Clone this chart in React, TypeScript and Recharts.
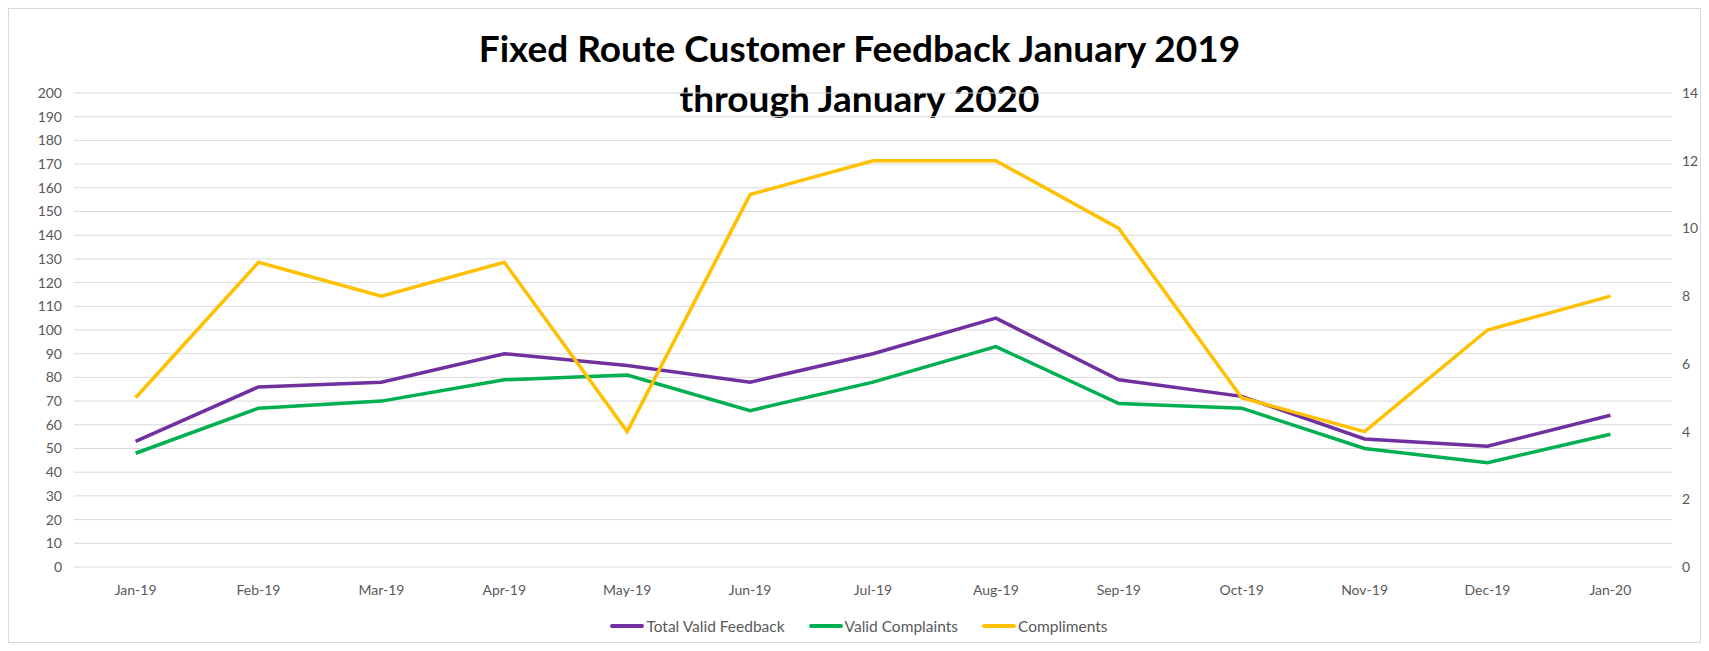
import React from "react";
import { LineChart, Line, XAxis, YAxis, CartesianGrid, Legend } from "recharts";

const months = ["Jan-19", "Feb-19", "Mar-19", "Apr-19", "May-19", "Jun-19", "Jul-19", "Aug-19", "Sep-19", "Oct-19", "Nov-19", "Dec-19", "Jan-20"];
const totalValidFeedback = [53, 76, 78, 90, 85, 78, 90, 105, 79, 72, 54, 51, 64];
const validComplaints = [48, 67, 70, 79, 81, 66, 78, 93, 69, 67, 50, 44, 56];
const compliments = [5, 9, 8, 9, 4, 11, 12, 12, 10, 5, 4, 7, 8];
const leftTicks = [0, 10, 20, 30, 40, 50, 60, 70, 80, 90, 100, 110, 120, 130, 140, 150, 160, 170, 180, 190, 200];
const rightTicks = [0, 2, 4, 6, 8, 10, 12, 14];
const boundaryTicks = [0, 1, 2, 3, 4, 5, 6, 7, 8, 9, 10, 11, 12, 13];

const series = [
  { key: "total", name: "Total Valid Feedback", color: "#7030A0" },
  { key: "complaints", name: "Valid Complaints", color: "#00B050" },
  { key: "compliments", name: "Compliments", color: "#FFC000" },
];

const data = months.map((m, i) => ({
  month: m,
  idx: i + 0.5,
  total: totalValidFeedback[i],
  complaints: validComplaints[i],
  compliments: compliments[i],
}));

const FONT = "Lato, 'Liberation Sans', sans-serif";

const LegendContent = () => (
  <div style={{ display: "flex", justifyContent: "center", alignItems: "center", fontFamily: FONT, fontSize: 15.5, color: "#595959" }}>
    {series.map((s) => (
      <div key={s.key} style={{ display: "flex", alignItems: "center", margin: "0 12px" }}>
        <div style={{ width: 34, height: 3.5, background: s.color, borderRadius: 2, marginRight: 2 }} />
        <span>{s.name}</span>
      </div>
    ))}
  </div>
);

export default function App() {
  const W = 1693;
  const H = 635;
  return (
    <div style={{ position: "relative", width: W, height: H, boxSizing: "border-box", border: "1px solid #d9d9d9", background: "#fff" }}>
      <div
        style={{
          position: "absolute",
          top: 14,
          left: 4,
          width: W,
          textAlign: "center",
          fontFamily: FONT,
          fontWeight: 700,
          fontSize: 37,
          lineHeight: "50px",
          color: "#000",
        }}
      >
        Fixed Route Customer Feedback January 2019
        <br />
        through January 2020
      </div>
      <div style={{ position: "absolute", top: 0, left: 0 }}>
        <LineChart width={W - 2} height={H - 2} data={data} margin={{ top: 84, right: 6, bottom: 7, left: 15 }}>
          <CartesianGrid vertical={false} stroke="#d9d9d9" strokeWidth={1} yAxisId="left" />
          <XAxis
            xAxisId="b"
            type="number"
            dataKey="idx"
            domain={[0, 13]}
            ticks={boundaryTicks}
            tick={false}
            tickLine={{ stroke: "#d9d9d9" }}
            tickSize={5}
            axisLine={{ stroke: "#d9d9d9" }}
            height={0}
          />
          <XAxis
            dataKey="month"
            xAxisId="m"
            padding={{ left: 61.6, right: 61.6 }}
            tickLine={false}
            axisLine={false}
            tick={{ fill: "#595959", fontSize: 14, fontFamily: FONT }}
            tickMargin={12}
            height={50}
            interval={0}
          />
          <YAxis
            yAxisId="left"
            domain={[0, 200]}
            ticks={leftTicks}
            interval={0}
            width={50}
            axisLine={false}
            tickLine={false}
            tick={{ fill: "#595959", fontSize: 14, fontFamily: FONT }}
            tickMargin={6}
          />
          <YAxis
            yAxisId="right"
            orientation="right"
            domain={[0, 14]}
            ticks={rightTicks}
            interval={0}
            width={22}
            axisLine={false}
            tickLine={false}
            tick={{ fill: "#595959", fontSize: 14, fontFamily: FONT, textAnchor: "start" }}
            tickMargin={4}
          />
          <Legend verticalAlign="bottom" content={<LegendContent />} />
          <Line xAxisId="m" yAxisId="left" type="linear" dataKey="total" name="Total Valid Feedback" stroke="#7030A0" strokeWidth={3.5} dot={false} isAnimationActive={false} />
          <Line xAxisId="m" yAxisId="left" type="linear" dataKey="complaints" name="Valid Complaints" stroke="#00B050" strokeWidth={3.5} dot={false} isAnimationActive={false} />
          <Line xAxisId="m" yAxisId="right" type="linear" dataKey="compliments" name="Compliments" stroke="#FFC000" strokeWidth={3.5} dot={false} isAnimationActive={false} />
        </LineChart>
      </div>
    </div>
  );
}
